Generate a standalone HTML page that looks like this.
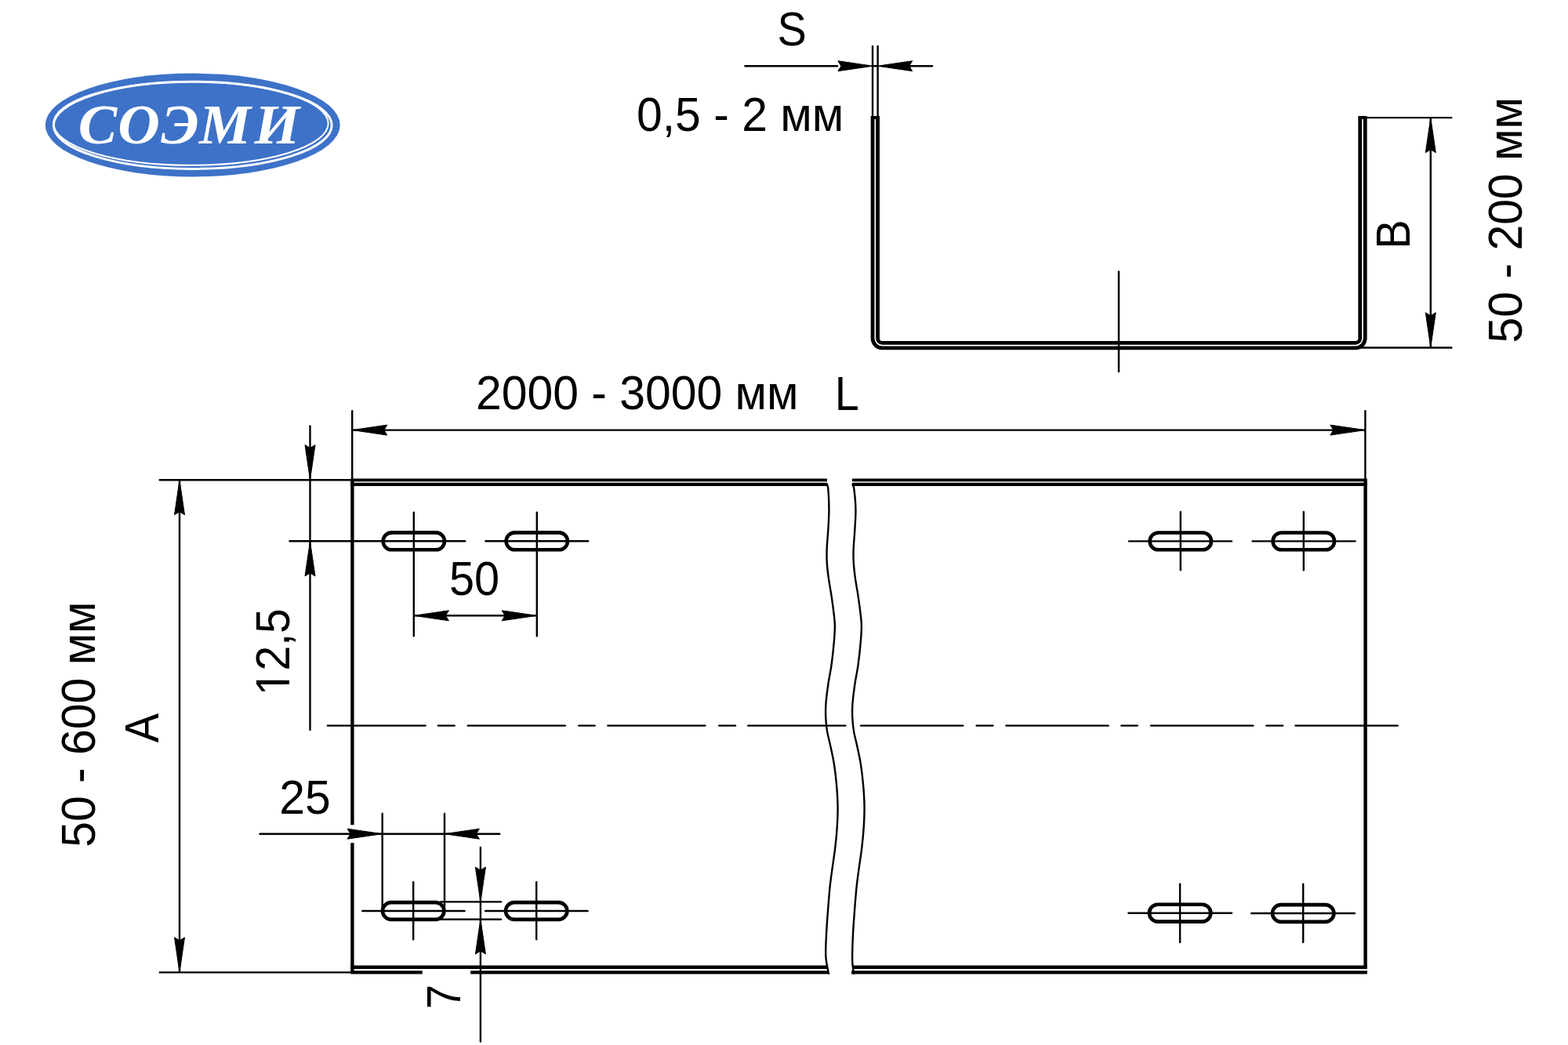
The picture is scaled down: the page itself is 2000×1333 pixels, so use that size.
<!DOCTYPE html>
<html lang="ru">
<head>
<meta charset="utf-8">
<title>СОЭМИ — лоток листовой: габаритный чертёж</title>
<style>
html,body{margin:0;padding:0;background:#fff;}
body{width:2000px;height:1333px;overflow:hidden;font-family:"Liberation Sans","DejaVu Sans",sans-serif;}
svg{display:block;}
.ah{fill:#000;stroke:#000;stroke-width:1;stroke-linejoin:round;}
text{white-space:pre;}
#plan rect{fill:none;}
</style>
</head>
<body>
<svg width="2000" height="1333" viewBox="0 0 2000 1333" role="img" aria-label="Чертёж лотка СОЭМИ">
<rect x="0" y="0" width="2000" height="1333" fill="#fff"/>
<g id="logo">
<ellipse cx="245.75" cy="159.5" rx="188" ry="65.9" fill="#3d72c8"/>
<ellipse cx="245.75" cy="159.8" rx="177.45" ry="55.6" fill="none" stroke="#fff" stroke-width="3"/>
<ellipse cx="243.5" cy="157.5" rx="175.2" ry="53.3" fill="none" stroke="#fff" stroke-width="2"/>
<text transform="scale(1.04 1)" y="183.5" font-family="'Liberation Serif', 'DejaVu Serif', serif" font-style="italic" font-weight="bold" font-size="71.4" fill="#fff" x="96.02 144.53 197.46 244.24 312.06">СОЭМИ</text>
</g>
<g id="section" stroke="#000" fill="none">
<path d="M1116.3 148.0 V431.55 A9 9 0 0 0 1125.3 440.55 H1729.0 A9 9 0 0 0 1738.0 431.55 V148.0" stroke-width="11.3" stroke-linecap="butt"/>
<path d="M1116.3 152.0 V431.55 A9 9 0 0 0 1125.3 440.55 H1729.0 A9 9 0 0 0 1738.0 431.55 V152.0" stroke="#fff" stroke-width="1.7" stroke-linecap="butt"/>
<line x1="1113" y1="59" x2="1113" y2="148" stroke-width="2.4" stroke-linecap="round"/>
<line x1="1119.6" y1="59" x2="1119.6" y2="148" stroke-width="2.4" stroke-linecap="round"/>
<line x1="950.5" y1="84.2" x2="1068" y2="84.2" stroke-width="2.45" stroke-linecap="round"/>
<line x1="1113" y1="84.2" x2="1119.6" y2="84.2" stroke-width="2.45" stroke-linecap="butt"/>
<line x1="1160" y1="84.2" x2="1189" y2="84.2" stroke-width="2.45" stroke-linecap="round"/>
<polygon class="ah" transform="translate(1113.3 84.2) rotate(0)" points="0,0 -44.4,-6.5 -40.4,0 -44.4,6.5"/>
<polygon class="ah" transform="translate(1119.3 84.2) rotate(180)" points="0,0 -44.4,-6.5 -40.4,0 -44.4,6.5"/>
<line x1="1427" y1="346.5" x2="1427" y2="474" stroke-width="2.4" stroke-linecap="round"/>
<line x1="1743" y1="150.1" x2="1851.4" y2="150.1" stroke-width="2.45" stroke-linecap="round"/>
<line x1="1735" y1="443.4" x2="1851.4" y2="443.4" stroke-width="2.45" stroke-linecap="round"/>
<line x1="1824.8" y1="150" x2="1824.8" y2="443" stroke-width="2.45" stroke-linecap="butt"/>
<polygon class="ah" transform="translate(1824.8 150.3) rotate(-90)" points="0,0 -44.4,-6.5 -40.4,0 -44.4,6.5"/>
<polygon class="ah" transform="translate(1824.8 443.2) rotate(90)" points="0,0 -44.4,-6.5 -40.4,0 -44.4,6.5"/>
</g>
<g id="plan" stroke="#000" fill="none">
<line x1="447.2" y1="612.3" x2="1055" y2="612.3" stroke-width="3.8" stroke-linecap="butt"/>
<line x1="447.2" y1="617.8" x2="1055" y2="617.8" stroke-width="4.2" stroke-linecap="butt"/>
<line x1="1087" y1="612.3" x2="1743.8" y2="612.3" stroke-width="3.8" stroke-linecap="butt"/>
<line x1="1087" y1="617.8" x2="1743.8" y2="617.8" stroke-width="4.2" stroke-linecap="butt"/>
<line x1="447.2" y1="1233.8" x2="1055" y2="1233.8" stroke-width="4.6" stroke-linecap="butt"/>
<line x1="447.2" y1="1240.3" x2="538.7" y2="1240.3" stroke-width="4.2" stroke-linecap="butt"/>
<line x1="600.2" y1="1240.3" x2="1056" y2="1240.3" stroke-width="4.2" stroke-linecap="butt"/>
<line x1="1087" y1="1233.8" x2="1743.8" y2="1233.8" stroke-width="4.6" stroke-linecap="butt"/>
<line x1="1086" y1="1240.3" x2="1744" y2="1240.3" stroke-width="4.2" stroke-linecap="butt"/>
<line x1="449.4" y1="612.3" x2="449.4" y2="1052.2" stroke-width="4.4" stroke-linecap="butt"/>
<line x1="449.4" y1="1075.2" x2="449.4" y2="1240.3" stroke-width="4.4" stroke-linecap="butt"/>
<line x1="1741.6" y1="612.3" x2="1741.6" y2="1233.8" stroke-width="4.4" stroke-linecap="butt"/>
<path d="M1055 617.8 C1055.24 618.96 1056.03 619.47 1056.44 624.75 C1056.84 630.04 1057.43 641.25 1057.43 649.5 C1057.43 657.76 1056.89 666.01 1056.44 674.26 C1055.98 682.51 1054.99 692 1054.7 699.01 C1054.41 706.02 1054.37 710.15 1054.7 716.34 C1055.03 722.52 1055.69 728.71 1056.68 736.14 C1057.67 743.56 1059.49 753.05 1060.64 760.89 C1061.8 768.73 1062.91 776.98 1063.61 783.17 C1064.32 789.36 1064.81 792.24 1064.85 798.02 C1064.89 803.8 1064.56 809.57 1063.86 817.82 C1063.16 826.07 1061.88 838.45 1060.64 847.52 C1059.41 856.6 1057.63 864.03 1056.44 872.28 C1055.24 880.53 1054 890.02 1053.47 897.03 C1052.93 904.04 1052.97 908.47 1053.22 914.36 C1053.47 920.25 1053.92 926.07 1054.95 932.38 C1055.98 938.68 1057.92 945.17 1059.41 952.18 C1060.89 959.19 1062.58 966.2 1063.86 974.46 C1065.14 982.71 1066.3 992.61 1067.08 1001.68 C1067.86 1010.76 1068.44 1020.25 1068.56 1028.91 C1068.69 1037.57 1068.36 1045 1067.82 1053.66 C1067.29 1062.33 1066.34 1072.23 1065.35 1080.89 C1064.36 1089.55 1063 1097.39 1061.88 1105.64 C1060.77 1113.89 1059.65 1120.91 1058.66 1130.4 C1057.67 1139.88 1056.72 1152.26 1055.94 1162.57 C1055.16 1172.89 1054.41 1183.2 1053.96 1192.28 C1053.51 1201.35 1053.14 1210.84 1053.22 1217.03 C1053.3 1223.22 1053.83 1225.28 1054.46 1229.41 C1055.09 1233.53 1056.58 1239.73 1057 1241.8" stroke-width="2.4" stroke-linecap="round" stroke-linejoin="round"/>
<path d="M1087.46 617.8 C1087.8 618.96 1088.8 619.47 1089.46 624.75 C1090.12 630.04 1091.26 641.25 1091.43 649.5 C1091.59 657.76 1090.89 666.01 1090.44 674.26 C1089.98 682.51 1088.99 692 1088.7 699.01 C1088.41 706.02 1088.37 710.15 1088.7 716.34 C1089.03 722.52 1089.69 728.71 1090.68 736.14 C1091.67 743.56 1093.49 753.05 1094.64 760.89 C1095.8 768.73 1096.91 776.98 1097.61 783.17 C1098.32 789.36 1098.81 792.24 1098.85 798.02 C1098.89 803.8 1098.56 809.57 1097.86 817.82 C1097.16 826.07 1095.88 838.45 1094.64 847.52 C1093.41 856.6 1091.63 864.03 1090.44 872.28 C1089.24 880.53 1088 890.02 1087.47 897.03 C1086.93 904.04 1086.97 908.47 1087.22 914.36 C1087.47 920.25 1087.92 926.07 1088.95 932.38 C1089.98 938.68 1091.92 945.17 1093.41 952.18 C1094.89 959.19 1096.58 966.2 1097.86 974.46 C1099.14 982.71 1100.3 992.61 1101.08 1001.68 C1101.86 1010.76 1102.44 1020.25 1102.56 1028.91 C1102.69 1037.57 1102.36 1045 1101.82 1053.66 C1101.29 1062.33 1100.34 1072.23 1099.35 1080.89 C1098.36 1089.55 1097 1097.39 1095.88 1105.64 C1094.77 1113.89 1093.65 1120.91 1092.66 1130.4 C1091.67 1139.88 1090.72 1152.26 1089.94 1162.57 C1089.16 1172.89 1088.43 1183.2 1087.96 1192.28 C1087.49 1201.35 1087.23 1210.84 1087.14 1217.03 C1087.04 1223.22 1087.08 1225.28 1087.38 1229.41 C1087.68 1233.53 1088.68 1239.73 1088.94 1241.8" stroke-width="2.4" stroke-linecap="round" stroke-linejoin="round"/>
<line x1="417.8" y1="925.6" x2="542.7" y2="925.6" stroke-width="2.4" stroke-linecap="round"/><line x1="558.9" y1="925.6" x2="579.8" y2="925.6" stroke-width="2.4" stroke-linecap="round"/><line x1="596.7" y1="925.6" x2="720.9" y2="925.6" stroke-width="2.4" stroke-linecap="round"/><line x1="738.2" y1="925.6" x2="758.7" y2="925.6" stroke-width="2.4" stroke-linecap="round"/><line x1="775.3" y1="925.6" x2="899.5" y2="925.6" stroke-width="2.4" stroke-linecap="round"/><line x1="917.1" y1="925.6" x2="938" y2="925.6" stroke-width="2.4" stroke-linecap="round"/><line x1="954.2" y1="925.6" x2="1078.4" y2="925.6" stroke-width="2.4" stroke-linecap="round"/>
<line x1="1098" y1="925.6" x2="1228.3" y2="925.6" stroke-width="2.4" stroke-linecap="round"/><line x1="1245.6" y1="925.6" x2="1266.5" y2="925.6" stroke-width="2.4" stroke-linecap="round"/><line x1="1283.4" y1="925.6" x2="1413.7" y2="925.6" stroke-width="2.4" stroke-linecap="round"/><line x1="1430.3" y1="925.6" x2="1450.8" y2="925.6" stroke-width="2.4" stroke-linecap="round"/><line x1="1468" y1="925.6" x2="1598.4" y2="925.6" stroke-width="2.4" stroke-linecap="round"/><line x1="1615.3" y1="925.6" x2="1636.2" y2="925.6" stroke-width="2.4" stroke-linecap="round"/><line x1="1652.4" y1="925.6" x2="1782.7" y2="925.6" stroke-width="2.4" stroke-linecap="round"/>
<rect x="488.6" y="679.4" width="78.4" height="21.8" rx="10.9" ry="10.9" stroke-width="4.6"/>
<rect x="645.6" y="679.4" width="78.4" height="21.8" rx="10.9" ry="10.9" stroke-width="4.6"/>
<rect x="1466.6" y="679.5" width="78.4" height="21.8" rx="10.9" ry="10.9" stroke-width="4.6"/>
<rect x="1623.6" y="679.5" width="78.4" height="21.8" rx="10.9" ry="10.9" stroke-width="4.6"/>
<rect x="488" y="1151.1" width="78.4" height="21.8" rx="10.9" ry="10.9" stroke-width="4.6"/>
<rect x="645" y="1151.1" width="78.4" height="21.8" rx="10.9" ry="10.9" stroke-width="4.6"/>
<rect x="1465.9" y="1153.8" width="78.4" height="21.8" rx="10.9" ry="10.9" stroke-width="4.6"/>
<rect x="1623" y="1154.1" width="78.4" height="21.8" rx="10.9" ry="10.9" stroke-width="4.6"/>
<line x1="369.5" y1="690.3" x2="593.2" y2="690.3" stroke-width="2.4" stroke-linecap="round"/>
<line x1="619.4" y1="690.3" x2="750.2" y2="690.3" stroke-width="2.4" stroke-linecap="round"/>
<line x1="527.8" y1="653.6" x2="527.8" y2="811.3" stroke-width="2.4" stroke-linecap="round"/>
<line x1="684.8" y1="653.6" x2="684.8" y2="811.3" stroke-width="2.4" stroke-linecap="round"/>
<line x1="1440" y1="690.4" x2="1571" y2="690.4" stroke-width="2.4" stroke-linecap="round"/>
<line x1="1597.6" y1="690.4" x2="1728.5" y2="690.4" stroke-width="2.4" stroke-linecap="round"/>
<line x1="1505.8" y1="653" x2="1505.8" y2="727.3" stroke-width="2.4" stroke-linecap="round"/>
<line x1="1662.8" y1="653" x2="1662.8" y2="727.3" stroke-width="2.4" stroke-linecap="round"/>
<line x1="462.3" y1="1162" x2="592.6" y2="1162" stroke-width="2.4" stroke-linecap="round"/>
<line x1="619.1" y1="1162" x2="749.6" y2="1162" stroke-width="2.4" stroke-linecap="round"/>
<line x1="527.2" y1="1125.1" x2="527.2" y2="1198.3" stroke-width="2.4" stroke-linecap="round"/>
<line x1="684.2" y1="1125.1" x2="684.2" y2="1198.3" stroke-width="2.4" stroke-linecap="round"/>
<line x1="1439.4" y1="1164.7" x2="1571" y2="1164.7" stroke-width="2.4" stroke-linecap="round"/>
<line x1="1596.2" y1="1165" x2="1727.9" y2="1165" stroke-width="2.4" stroke-linecap="round"/>
<line x1="1505.1" y1="1127.6" x2="1505.1" y2="1201.9" stroke-width="2.4" stroke-linecap="round"/>
<line x1="1662.2" y1="1127.6" x2="1662.2" y2="1201.9" stroke-width="2.4" stroke-linecap="round"/>
<line x1="449.2" y1="524.2" x2="449.2" y2="612.3" stroke-width="2.4" stroke-linecap="round"/>
<line x1="1741.4" y1="524.2" x2="1741.4" y2="612.3" stroke-width="2.4" stroke-linecap="round"/>
<line x1="449.2" y1="548.6" x2="1741.4" y2="548.6" stroke-width="2.4" stroke-linecap="butt"/>
<polygon class="ah" transform="translate(449.4 548.6) rotate(180)" points="0,0 -44.4,-6.5 -40.4,0 -44.4,6.5"/>
<polygon class="ah" transform="translate(1741.2 548.6) rotate(0)" points="0,0 -44.4,-6.5 -40.4,0 -44.4,6.5"/>
<line x1="203.8" y1="612.2" x2="447" y2="612.2" stroke-width="2.4" stroke-linecap="round"/>
<line x1="203.8" y1="1240.4" x2="447" y2="1240.4" stroke-width="2.4" stroke-linecap="round"/>
<line x1="229" y1="612" x2="229" y2="1240" stroke-width="2.4" stroke-linecap="butt"/>
<polygon class="ah" transform="translate(229 612.3) rotate(-90)" points="0,0 -44.4,-6.5 -40.4,0 -44.4,6.5"/>
<polygon class="ah" transform="translate(229 1240.2) rotate(90)" points="0,0 -44.4,-6.5 -40.4,0 -44.4,6.5"/>
<line x1="395.5" y1="543.4" x2="395.5" y2="931" stroke-width="2.4" stroke-linecap="round"/>
<polygon class="ah" transform="translate(395.5 611.9) rotate(90)" points="0,0 -44.4,-6.5 -40.4,0 -44.4,6.5"/>
<polygon class="ah" transform="translate(395.5 690.5) rotate(-90)" points="0,0 -44.4,-6.5 -40.4,0 -44.4,6.5"/>
<line x1="527.8" y1="785.3" x2="684.8" y2="785.3" stroke-width="2.4" stroke-linecap="butt"/>
<polygon class="ah" transform="translate(528 785.3) rotate(180)" points="0,0 -44.4,-6.5 -40.4,0 -44.4,6.5"/>
<polygon class="ah" transform="translate(684.6 785.3) rotate(0)" points="0,0 -44.4,-6.5 -40.4,0 -44.4,6.5"/>
<line x1="331.5" y1="1063.7" x2="637.2" y2="1063.7" stroke-width="2.4" stroke-linecap="round"/>
<polygon class="ah" transform="translate(487.5 1063.7) rotate(0)" points="0,0 -44.4,-6.5 -40.4,0 -44.4,6.5"/>
<polygon class="ah" transform="translate(567 1063.7) rotate(180)" points="0,0 -44.4,-6.5 -40.4,0 -44.4,6.5"/>
<line x1="487.7" y1="1038" x2="487.7" y2="1161" stroke-width="2.4" stroke-linecap="round"/>
<line x1="567" y1="1038" x2="567" y2="1161" stroke-width="2.4" stroke-linecap="round"/>
<line x1="612.9" y1="1081" x2="612.9" y2="1328.6" stroke-width="2.4" stroke-linecap="round"/>
<polygon class="ah" transform="translate(612.9 1150.5) rotate(90)" points="0,0 -44.4,-6.5 -40.4,0 -44.4,6.5"/>
<polygon class="ah" transform="translate(612.9 1172.6) rotate(-90)" points="0,0 -44.4,-6.5 -40.4,0 -44.4,6.5"/>
<line x1="562" y1="1150.4" x2="639" y2="1150.4" stroke-width="2.4" stroke-linecap="round"/>
<line x1="562" y1="1172.7" x2="639" y2="1172.7" stroke-width="2.4" stroke-linecap="round"/>
</g>
<g id="labels" font-family="'Liberation Sans', 'DejaVu Sans', sans-serif" fill="#000">
<text transform="translate(991.52 57.59) scale(0.925 1)" font-size="60.4">S</text>
<text transform="translate(812.03 166.56) scale(0.975 1)" font-size="60.4">0,5 - 2 мм</text>
<text transform="translate(606.92 521.56) scale(0.975 1)" font-size="60.4">2000 - 3000 мм</text>
<text transform="translate(1064.7 522.84) scale(0.925 1)" font-size="60.4">L</text>
<text transform="translate(572.94 759.24) scale(0.955 1)" font-size="60.4">50</text>
<text transform="translate(356.27 1037.64) scale(0.975 1)" font-size="60.4">25</text>
<text transform="translate(1798.44 317.41) rotate(-90) scale(0.925 1)" font-size="60.4">B</text>
<text transform="translate(1941.49 437.39) rotate(-90) scale(0.975 1)" font-size="60.4">50 - 200 мм</text>
<text transform="translate(120.86 1080.71) rotate(-90) scale(0.975 1)" font-size="60.4">50 - 600 мм</text>
<text transform="translate(201.89 947.22) rotate(-90) scale(0.925 1)" font-size="60.4">A</text>
<g transform="translate(369.44 887.21) rotate(-90) scale(0.945 1)"><text font-size="60.4">12,5</text><rect x="3.9" y="-5.81" width="11.29" height="6.71" fill="#fff" stroke="none"/><rect x="20.52" y="-5.81" width="10.82" height="6.71" fill="#fff" stroke="none"/></g>
<text transform="translate(586.94 1287) rotate(-90) scale(0.925 1)" font-size="60.4">7</text>
</g>
</svg>
</body>
</html>
